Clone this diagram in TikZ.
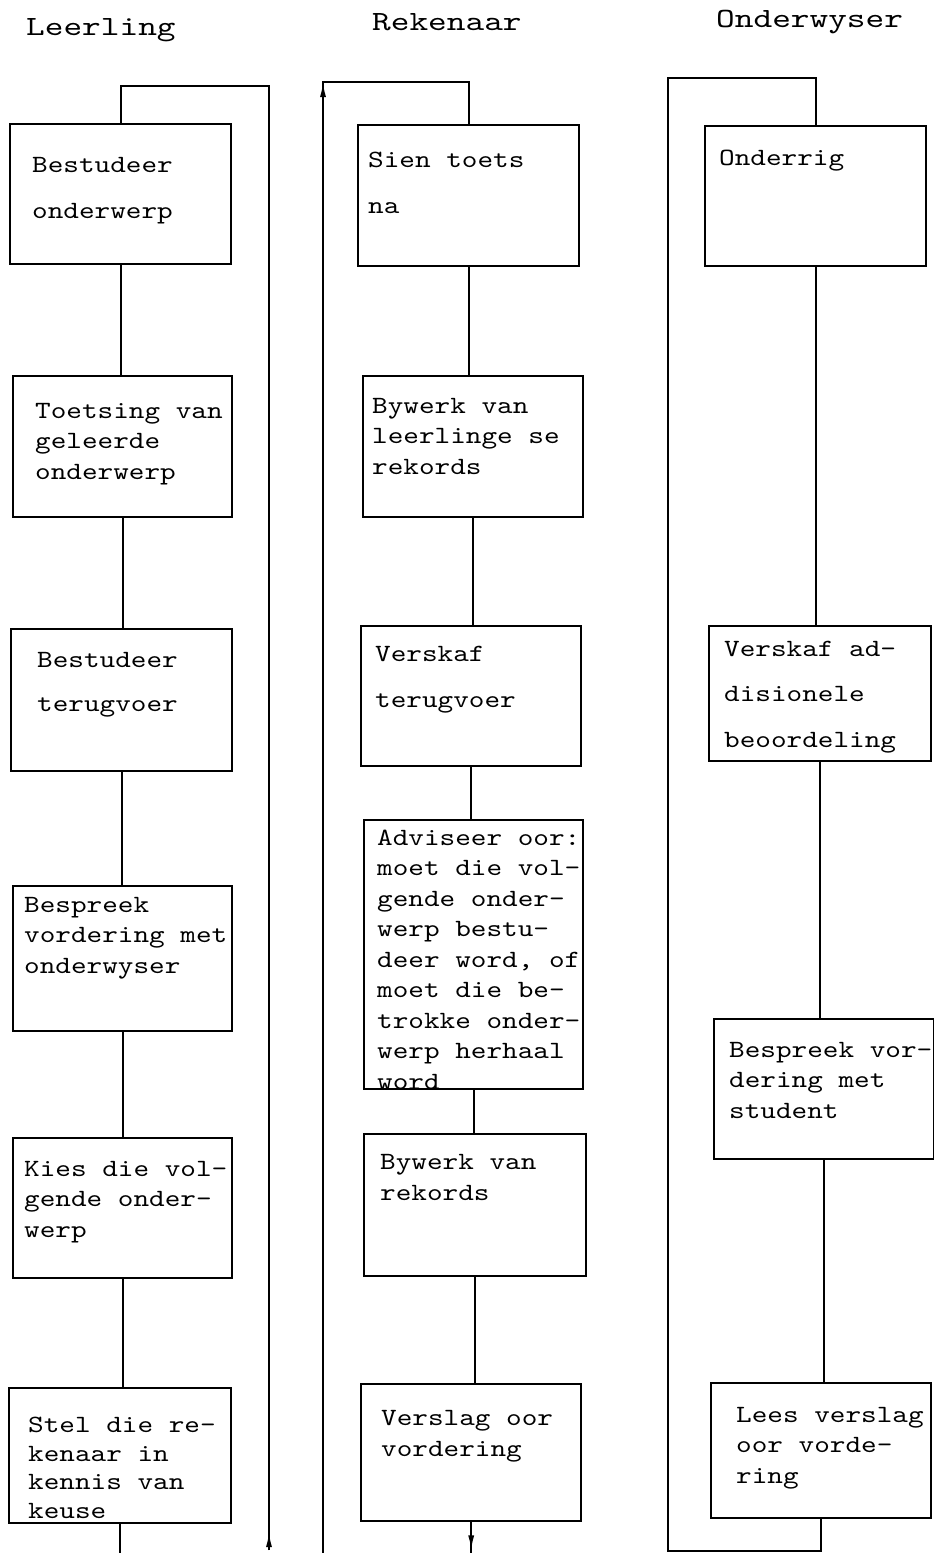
\documentclass[tikz,border=0pt]{standalone}
\usepackage{fontspec}
\usepackage{tikz}
\usetikzlibrary{arrows.meta}

\newfontfamily\tw{lmmono10-regular}[Extension=.otf, FakeStretch=1.2]
\newfontfamily\hw{lmmono10-regular}[Extension=.otf, FakeStretch=1.28]

\begin{document}
\begin{tikzpicture}[x=1pt, y=-1pt,
    box/.style={draw, line width=2.4pt, inner sep=0pt, anchor=north west},
    txt/.style={anchor=base west, inner sep=0pt, align=left, font=\tw\fontsize{24.8}{30.5}\selectfont},
    head/.style={anchor=base west, inner sep=0pt, font=\hw\fontsize{27.8}{33}\selectfont},
    link/.style={line width=2.4pt},
    back/.style={line width=1.8pt},
    tip/.style={line width=1.8pt, -{Latex[length=15pt,width=6pt]}}]
    \useasboundingbox (0,0) rectangle (934,1553);

    % headings
    \node[head] (hl) at (26,35) {Leerling};
    \node[head] (hr) at (372,30) {Rekenaar};
    \node[head] (ho) at (716,27) {Onderwyser};

    % Leerling (text placed at the baseline of its last line)
    \node[txt] (l1t) at (32,218) {Bestudeer\\[15pt]onderwerp};
    \node[txt] (l2t) at (35,479) {Toetsing van\\geleerde\\onderwerp};
    \node[txt] (l3t) at (37,711) {Bestudeer\\[13pt]terugvoer};
    \node[txt] (l4t) at (24,973) {Bespreek\\vordering met\\onderwyser};
    \node[txt] (l5t) at (24,1237) {Kies die vol-\\gende onder-\\werp};
    \node[txt] (l6t) at (28,1518) {Stel die re-\\[-2pt]kenaar in\\[-2pt]kennis van\\[-2pt]keuse};
    \node[box, minimum width=221pt, minimum height=140pt] (l1) at (9,123) {};
    \node[box, minimum width=219pt, minimum height=141pt] (l2) at (12,375) {};
    \node[box, minimum width=221pt, minimum height=142pt] (l3) at (10,628) {};
    \node[box, minimum width=219pt, minimum height=145pt] (l4) at (12,885) {};
    \node[box, minimum width=219pt, minimum height=140pt] (l5) at (12,1137) {};
    \node[box, minimum width=222pt, minimum height=135pt] (l6) at (8,1387) {};
    \foreach \a/\b in {l1/l2, l2/l3, l3/l4, l4/l5, l5/l6}
        \draw[link] (\a.south) -- (\a.south |- \b.north);
    \coordinate (lr) at (269,86);
    \coordinate (lb) at (269,1550);
    \coordinate (le) at (118,1553);
    \draw[link] (l6.south) -- (l6.south |- le);
    \draw[back] (lb) -- (lr) -| (l1.north);
    \draw[tip] (lb) -- ++(0,-18);

    % Rekenaar
    \node[txt] (r1t) at (368,213) {Sien toets\\[15pt]na};
    \node[txt] (r2t) at (372,474) {Bywerk van\\leerlinge se\\rekords};
    \node[txt] (r3t) at (375,707) {Verskaf\\[15pt]terugvoer};
    \node[txt] (r4t) at (377,1089) {Adviseer oor:\\moet die vol-\\gende onder-\\werp bestu-\\deer word, of\\moet die be-\\trokke onder-\\werp herhaal\\word};
    \node[txt] (r5t) at (380,1200) {Bywerk van\\rekords};
    \node[txt] (r6t) at (381,1456) {Verslag oor\\vordering};
    \node[box, minimum width=221pt, minimum height=141pt] (r1) at (357,124) {};
    \node[box, minimum width=220pt, minimum height=141pt] (r2) at (362,375) {};
    \node[box, minimum width=220pt, minimum height=140pt] (r3) at (360,625) {};
    \node[box, minimum width=219pt, minimum height=269pt] (r4) at (363,819) {};
    \node[box, minimum width=222pt, minimum height=142pt] (r5) at (363,1133) {};
    \node[box, minimum width=220pt, minimum height=137pt] (r6) at (360,1383) {};
    \foreach \a/\b in {r1/r2, r2/r3, r3/r4, r4/r5, r5/r6}
        \draw[link] (\a.south) -- (\a.south |- \b.north);
    \coordinate (rt) at (323,82);
    \coordinate (rb) at (323,1553);
    \coordinate (re) at (471,1553);
    \draw[link] (r6.south) -- (r6.south |- re);
    \draw[tip] (r6.south) -- ++(0,28);
    \draw[back] (rb) -- (rt) -| (r1.north);
    \draw[tip] (323,110) -- (rt);

    % Onderwyser
    \node[txt] (o1t) at (719,165) {Onderrig};
    \node[txt] (o2t) at (724,747) {Verskaf ad-\\[15pt]disionele\\[15pt]beoordeling};
    \node[txt] (o3t) at (729,1118) {Bespreek vor-\\dering met\\student};
    \node[txt] (o4t) at (736,1483) {Lees verslag\\oor vorde-\\ring};
    \node[box, minimum width=221pt, minimum height=140pt] (o1) at (704,125) {};
    \node[box, minimum width=222pt, minimum height=135pt] (o2) at (708,625) {};
    \node[box, minimum width=220pt, minimum height=140pt] (o3) at (713,1018) {};
    \node[box, minimum width=220pt, minimum height=135pt] (o4) at (710,1382) {};
    \foreach \a/\b in {o1/o2, o2/o3, o3/o4}
        \draw[link] (\a.south) -- (\a.south |- \b.north);
    \coordinate (ot) at (668,78);
    \coordinate (ob) at (668,1551);
    \draw[back] (o4.south) -- (o4.south |- ob) -- (ob) -- (ot) -| (o1.north);
\end{tikzpicture}
\end{document}
